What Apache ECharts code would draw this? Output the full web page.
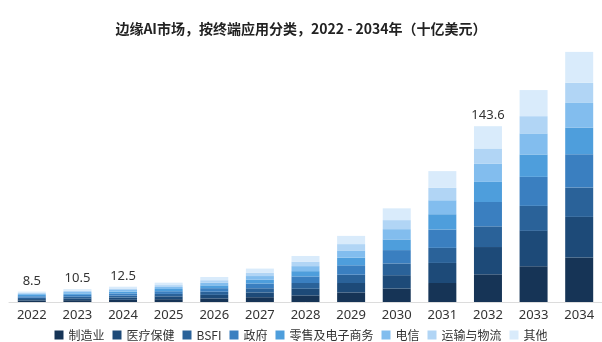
<!DOCTYPE html>
<html><head><meta charset="utf-8">
<script src="https://cdn.jsdelivr.net/npm/echarts@6/dist/echarts.min.js"></script>
<style>html,body{margin:0;padding:0;background:#fff}#c{width:602px;height:342px}</style>
</head><body><div id="c"></div>
<script>
const categories = ['2022','2023','2024','2025','2026','2027','2028','2029','2030','2031','2032','2033','2034'];
const seriesNames = ['制造业','医疗保健','BSFI','政府','零售及电子商务','电信','运输与物流','其他'];
const manufacturing = [1.2,1.5,1.8,2.3,2.9,3.9,5.4,7.8,11.0,15.5,22.6,29.2,36.3];
const healthcare    = [1.2,1.5,1.8,2.3,2.9,3.9,5.4,7.7,10.9,16.4,22.3,28.9,33.2];
const bsfi          = [1.1,1.3,1.6,2.0,2.6,3.4,4.7,6.8,9.6,12.3,16.9,20.4,24.0];
const government    = [1.2,1.5,1.8,2.2,2.9,3.9,5.4,7.7,10.9,15.0,19.9,23.7,27.2];
const retail        = [1.0,1.2,1.4,1.8,2.3,3.1,4.3,6.2,8.7,12.5,16.4,18.3,21.8];
const telecom       = [0.9,1.2,1.4,1.7,2.2,3.0,4.1,5.9,8.4,11.4,15.0,17.2,20.1];
const transport     = [0.8,1.0,1.2,1.5,2.0,2.6,3.6,5.2,7.4,10.1,12.3,14.1,16.4];
const others        = [1.1,1.3,1.5,2.0,2.6,3.5,4.7,6.7,9.6,13.7,18.2,21.3,25.3];
const totalLabels   = ['8.5','10.5','12.5','','','','','','','','143.6','',''];
const colors = ['#163456','#1d4a78','#2a6299','#3a7fc0','#4e9edc','#82bdee','#b1d5f5','#d9ebfb'];

const values = [manufacturing, healthcare, bsfi, government, retail, telecom, transport, others];
const series = values.map((v, i) => {
  const s = {
    name: seriesNames[i], type: 'bar', stack: 'total', data: v, barWidth: 28,
    itemStyle: { color: colors[i] }
  };
  if (i === values.length - 1) {
    s.label = {
      show: true, position: 'top', distance: 4, color: '#333', fontSize: 13,
      fontFamily: 'Noto Sans, sans-serif',
      formatter: p => totalLabels[p.dataIndex]
    };
  }
  return s;
});

const chart = echarts.init(document.getElementById('c'), null, {renderer: 'canvas'});
chart.setOption({
  animation: false,
  textStyle: { fontFamily: '"Noto Sans CJK SC", "Noto Sans", sans-serif' },
  title: {
    text: '边缘AI市场，按终端应用分类，2022 - 2034年（十亿美元）',
    left: 'center', top: 17,
    textStyle: { fontSize: 14, fontWeight: 'bold', color: '#222', fontFamily: '"Noto Sans CJK SC", sans-serif' }
  },
  legend: {
    top: 324, left: 'center', itemWidth: 9, itemHeight: 9, itemGap: 8,
    icon: 'rect',
    textStyle: { fontSize: 12, color: '#333', fontFamily: '"Noto Sans CJK SC", sans-serif' },
    data: seriesNames
  },
  grid: { left: 9, right: 0, top: 40, bottom: 40, containLabel: false },
  xAxis: {
    type: 'category', data: categories,
    axisLine: { lineStyle: { color: '#dcdcdc' } },
    axisTick: { show: false },
    axisLabel: { color: '#333', fontSize: 13, margin: 7, fontFamily: 'Noto Sans, sans-serif' }
  },
  yAxis: { type: 'value', min: 0, max: 214, show: false, splitLine: { show: false } },
  series: series
});
</script></body></html>
